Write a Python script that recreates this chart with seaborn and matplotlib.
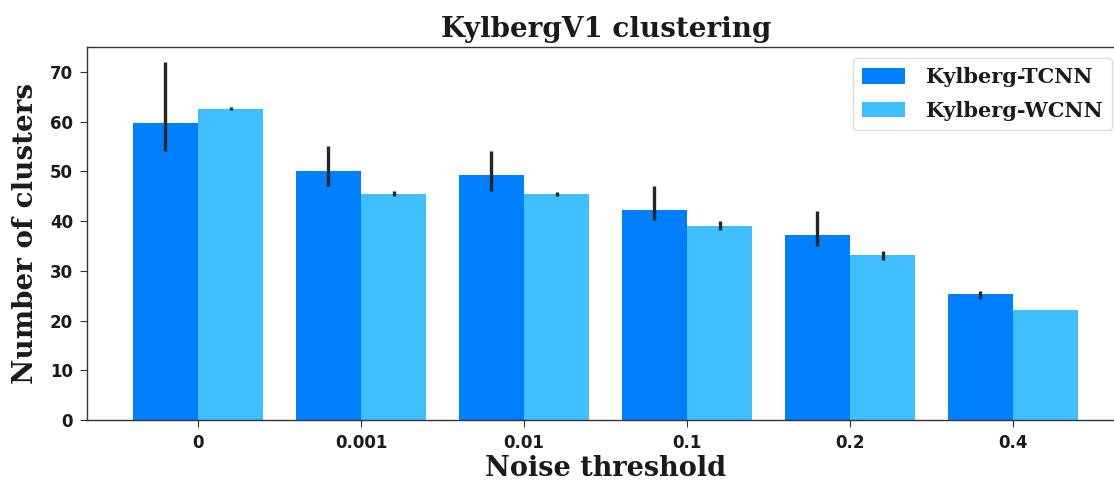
import matplotlib
matplotlib.use("Agg")
import matplotlib.pyplot as plt
import seaborn as sns
import pandas as pd
import numpy as np

thresholds = ["0", "0.001", "0.01", "0.1", "0.2", "0.4"]
series_names = ["Kylberg-TCNN", "Kylberg-WCNN"]
tcnn_mean = [59.7, 50.0, 49.2, 42.3, 37.2, 25.3]
tcnn_lo = [54.0, 47.0, 46.0, 40.3, 35.0, 24.3]
tcnn_hi = [72.0, 55.0, 54.0, 47.0, 42.0, 26.0]
wcnn_mean = [62.5, 45.5, 45.5, 39.1, 33.2, 22.1]
wcnn_lo = [62.3, 45.0, 45.1, 38.2, 32.2, 22.1]
wcnn_hi = [62.9, 46.0, 45.9, 40.0, 34.0, 22.1]
yticks = [0, 10, 20, 30, 40, 50, 60, 70]

sns.set_style("ticks")
plt.rcParams['font.family'] = ['DejaVu Sans']

df = pd.DataFrame({
    "threshold": thresholds * 2,
    "model": [series_names[0]] * 6 + [series_names[1]] * 6,
    "value": tcnn_mean + wcnn_mean,
})

W, H = 1114, 482
fig = plt.figure(figsize=(W / 100, H / 100), dpi=100)
left, right, top, bottom = 87, 1125, 47, 420
ax = fig.add_axes([left / W, (H - bottom) / H, (right - left) / W, (bottom - top) / H])

palette = {series_names[0]: "#0080FF", series_names[1]: "#40BFFF"}
sns.barplot(data=df, x="threshold", y="value", hue="model", order=thresholds,
            hue_order=series_names, palette=palette, errorbar=None,
            width=0.8, saturation=1, ax=ax, edgecolor="none")

# error bars at bar centers
lows = [tcnn_lo, wcnn_lo]
highs = [tcnn_hi, wcnn_hi]
for ci, cont in enumerate(ax.containers):
    for j, p in enumerate(cont.patches):
        xc = p.get_x() + p.get_width() / 2
        if highs[ci][j] > lows[ci][j]:
            ax.vlines(xc, lows[ci][j], highs[ci][j], color="#262626", lw=2.4, zorder=3)

# px per category = 163
x_left = -(198 - 87) / 163
x_right = x_left + (right - left) / 163
ax.set_xlim(x_left, x_right)
ax.set_ylim(0, 75)
ax.set_yticks(yticks)

for s in ["top", "bottom", "left", "right"]:
    ax.spines[s].set_visible(True)
    ax.spines[s].set_color("#333333")
    ax.spines[s].set_linewidth(1.0)

ax.tick_params(axis="both", labelsize=12, colors="#333333", length=5, width=0.8,
               labelcolor="#1a1a1a", pad=5)
for lab in ax.get_xticklabels() + ax.get_yticklabels():
    lab.set_fontweight("bold")

ax.set_title("KylbergV1 clustering", family="DejaVu Serif", fontweight="bold", fontsize=20, pad=7, color="#1a1a1a")
ax.set_xlabel("Noise threshold", family="DejaVu Serif", fontweight="bold", fontsize=19.5, labelpad=2, color="#1a1a1a")
ax.set_ylabel("Number of clusters", family="DejaVu Serif", fontweight="bold", fontsize=20, labelpad=8, color="#1a1a1a")

leg = ax.legend(loc="upper right", bbox_to_anchor=((1112 - left) / (right - left), 1 - (58 - top) / (bottom - top)),
                prop={"family": "DejaVu Serif", "weight": "bold", "size": 15},
                frameon=True, fancybox=True, framealpha=1, edgecolor="#dddddd",
                handlelength=2.05, handleheight=0.75, borderpad=0.45, labelspacing=0.65,
                handletextpad=1.0, borderaxespad=0)
for t in leg.get_texts():
    t.set_color("#1a1a1a")

fig.savefig("out.png", dpi=100)
